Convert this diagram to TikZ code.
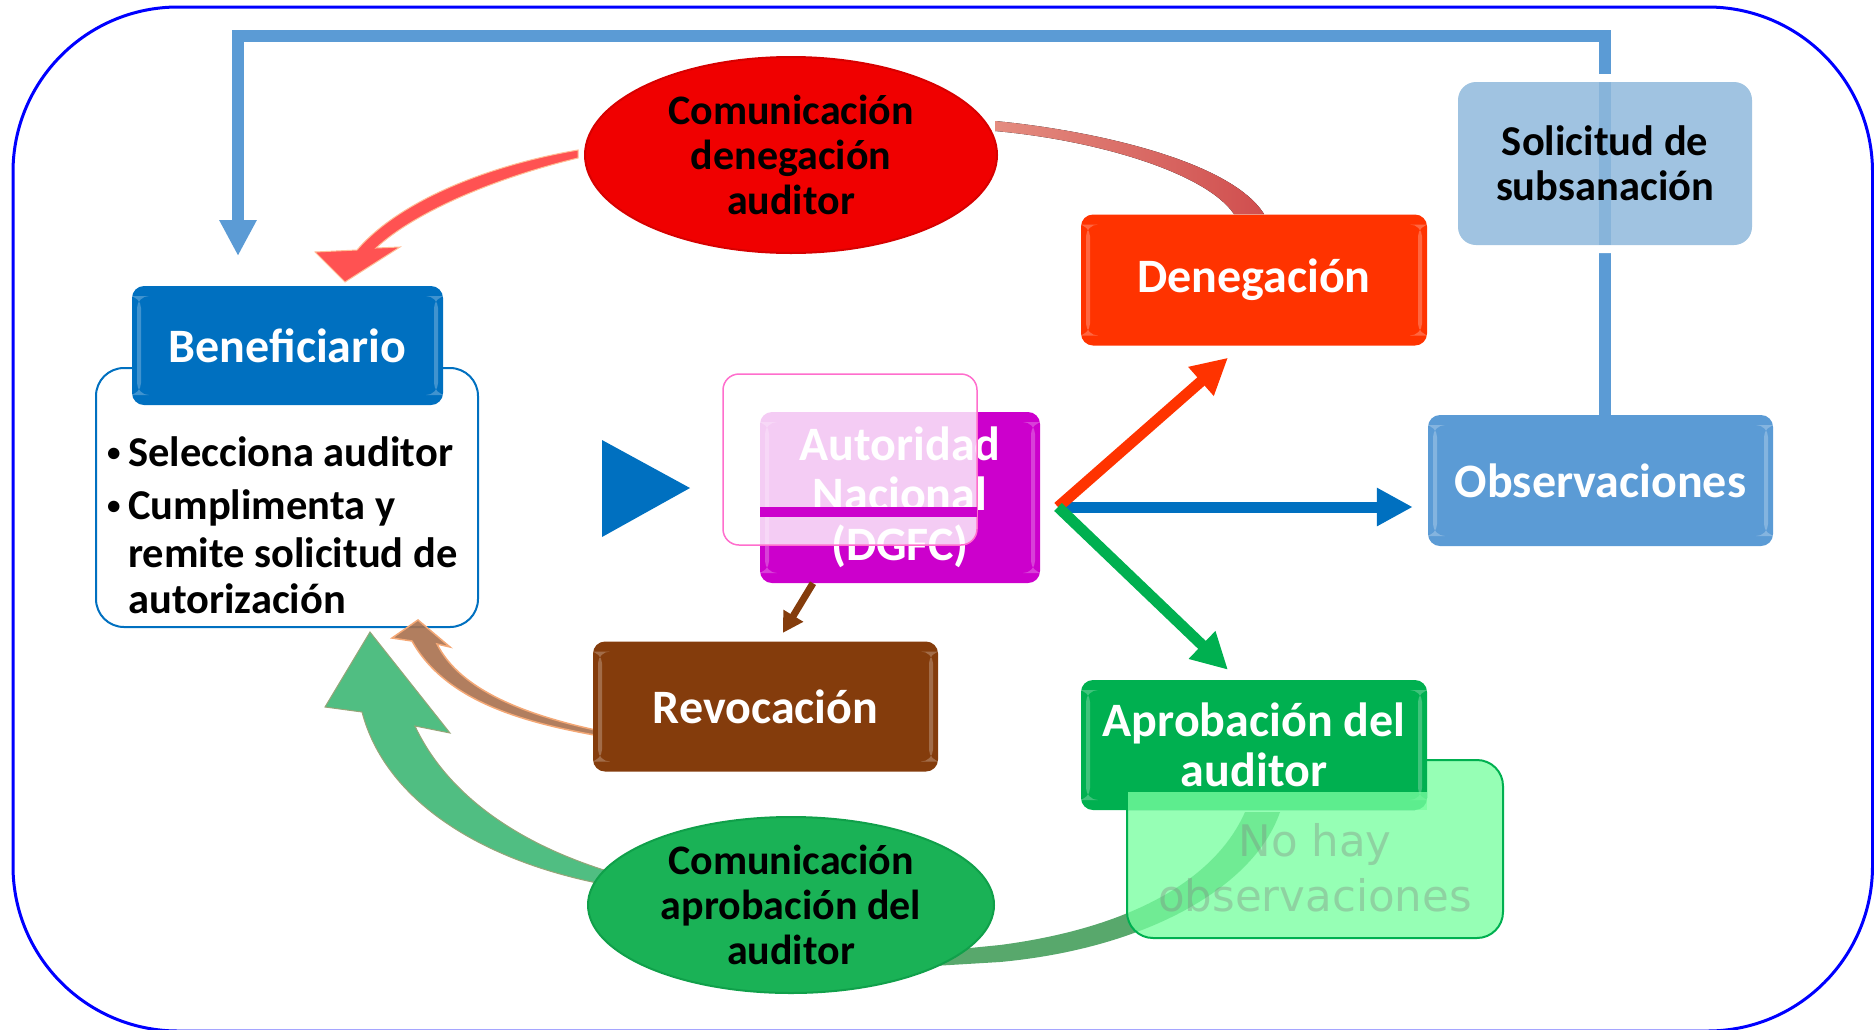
\documentclass[tikz,border=0pt]{standalone}
\usepackage{fontspec}
\setmainfont{Carlito}
\newfontfamily\lightsans{DejaVu Sans}
\usetikzlibrary{arrows.meta,calc,shapes.geometric}

\definecolor{benblue}{HTML}{0070C0}
\definecolor{denred}{HTML}{FF3300}
\definecolor{automag}{HTML}{CC00CC}
\definecolor{obsblue}{HTML}{5B9BD5}
\definecolor{revbrown}{HTML}{843C0C}
\definecolor{aprgreen}{HTML}{00B050}
\definecolor{solblue}{RGB}{143,185,220}
\definecolor{frameblue}{RGB}{0,0,255}
\definecolor{arrowred}{RGB}{255,82,82}
\definecolor{arrowrededge}{RGB}{255,190,150}
\definecolor{bandred}{RGB}{208,78,78}
\definecolor{bandredlight}{RGB}{228,140,128}
\definecolor{brownarrow}{RGB}{168,112,78}
\definecolor{brownedge}{RGB}{244,168,118}
\definecolor{greenarrow}{RGB}{80,190,130}
\definecolor{greenarrowedge}{RGB}{150,165,120}
\definecolor{greenband}{RGB}{88,168,108}
\definecolor{nohayfill}{RGB}{120,255,160}
\definecolor{pinkedge}{RGB}{255,110,205}
\definecolor{ellred}{RGB}{240,0,0}
\definecolor{ellredrim}{RGB}{215,0,0}
\definecolor{ellgreen}{RGB}{26,178,86}
\definecolor{ellgreenrim}{RGB}{16,160,74}

\newcommand{\smallbullet}{\makebox[22pt][l]{\hspace{1pt}\raisebox{5pt}{\fontsize{27}{27}\selectfont\textbullet}}}

\begin{document}
\begin{tikzpicture}[x=1pt,y=-1pt,
  box/.style={rounded corners=12pt, inner sep=0pt, align=center, text=white,
    font=\fontsize{48}{50}\selectfont\bfseries},
  gloss/.style={path picture={
    \fill[white,opacity=0.25] ([xshift=5pt,yshift=-10pt]path picture bounding box.north west) rectangle ([xshift=9pt,yshift=10pt]path picture bounding box.south west);
    \fill[white,opacity=0.25] ([xshift=-9pt,yshift=-10pt]path picture bounding box.north east) rectangle ([xshift=-5pt,yshift=10pt]path picture bounding box.south east);
  }},
  ell/.style={ellipse, inner sep=0pt, align=center, text=black,
    font=\fontsize{42}{45}\selectfont\bfseries},
  bodytext/.style={inner sep=0pt, anchor=base west, text=black,
    font=\fontsize{42.5}{47}\selectfont\bfseries},
  hubarrow/.style={line width=11pt, -{Triangle[width=36pt,length=36pt]}},
]
\useasboundingbox (0,0) rectangle (1874,1029);

% outer frame
\begin{scope}
\clip (0,0) rectangle (1874,1029);
\draw[frameblue,line width=3pt,rounded corners=165pt] (13,7) rectangle (1872.5,1031);
\end{scope}

% Observaciones and Beneficiario
\node[box, fill=obsblue, gloss, minimum width=345pt, minimum height=131pt] (obs) at (1600.5,480.5) {Observaciones};
\node[draw=benblue, line width=2pt, fill=white, rounded corners=28pt, minimum width=382pt, minimum height=259pt, inner sep=0pt] (body) at (287,497.5) {};
\node[box, fill=benblue, gloss, minimum width=311pt, minimum height=119pt] (ben) at (287.5,345.5) {Beneficiario};
\node[bodytext] (l1) at (106,466) {\smallbullet Selecciona auditor};
\node[bodytext] (l2) at (106,519) {\smallbullet Cumplimenta y};
\node[bodytext] (l3) at (128,567) {remite solicitud de};
\node[bodytext] (l4) at (128,613) {autorización};

% elbow connector Observaciones -> Beneficiario
\coordinate (elbowR) at (1605,36);
\coordinate (elbowL) at (238,36);
\coordinate (benin) at (238,256);
\draw[obsblue, line width=12pt, -{Triangle[width=35pt,length=36pt]}] (obs.north -| elbowR) -- (elbowR) -- (elbowL) -- (benin);

% Solicitud de subsanacion
\fill[white, even odd rule, rounded corners=22pt] (1450,74) rectangle (1760,253) (1458,82) rectangle (1752,245);
\node[box, fill=solblue, fill opacity=0.85, text opacity=1, text=black, font=\fontsize{42.5}{45}\selectfont\bfseries, rounded corners=18pt, minimum width=294pt, minimum height=163pt] (sol) at (1605,163.5) {Solicitud de\\subsanación};

% red band Denegacion -> ellipse
\fill[left color=bandredlight, right color=bandred] (995,121) .. controls (1090,130) and (1230,160) .. (1264,214) -- (1234,214) .. controls (1205,172) and (1095,140) .. (995,131) -- cycle;
% red arrow ellipse -> Beneficiario
\filldraw[fill=arrowred, draw=arrowrededge, line width=1pt] (578,150) .. controls (490,165) and (400,200) .. (357,250) -- (315,252) -- (345,282) -- (400,247) -- (376,248) .. controls (415,212) and (495,178) .. (578,158) -- cycle;
\node[ell, fill=ellred, draw=ellredrim, line width=2pt, minimum width=412pt, minimum height=196pt] (cden) at (791,155) {Comunicación\\denegación\\auditor};
\node[box, fill=denred, gloss, minimum width=346pt, minimum height=131pt] (den) at (1254,280) {Denegación};

% green band under No hay observaciones
\fill[greenband] (1245,812) .. controls (1215,880) and (1130,928) .. (1000,945) -- (900,955) -- (900,968) -- (1000,962) .. controls (1150,948) and (1255,885) .. (1280,812) -- cycle;
\node[fill=nohayfill, fill opacity=0.78, draw=aprgreen, line width=2pt, rounded corners=26pt, minimum width=376pt, minimum height=178pt, inner sep=0pt] (nohay) at (1315,849) {};
\node[box, fill=aprgreen, gloss, minimum width=346pt, minimum height=130pt] (apr) at (1254,745) {Aprobación del\\auditor};
\fill[nohayfill, fill opacity=0.78] (1128,792) rectangle (1427,810);
\draw[aprgreen, line width=2pt] (1127,792) -- (1127,811);
\node[font=\lightsans\fontsize{43.5}{55}\selectfont, text=black!50, text opacity=0.35, align=center, inner sep=0pt] (nohaytxt) at (1315,868) {No hay\\observaciones};

% green big arrow ellipse -> Beneficiario
\filldraw[fill=greenarrow, draw=greenarrowedge, line width=1pt] (602,884) .. controls (480,860) and (385,800) .. (362,712) -- (325,707) -- (370,632) -- (450,733) -- (415,726) .. controls (445,790) and (510,840) .. (604,870) -- cycle;
\node[ell, fill=ellgreen, draw=ellgreenrim, line width=2pt, minimum width=406pt, minimum height=176pt] (capr) at (791,905) {Comunicación\\aprobación del\\auditor};

% brown curved arrow Revocacion -> Beneficiario
\filldraw[fill=brownarrow, draw=brownedge, line width=1.5pt, fill opacity=0.9] (600,736) .. controls (520,722) and (445,700) .. (412,641) -- (392,638) -- (418,620) -- (450,647) -- (437,644) .. controls (460,690) and (525,715) .. (600,731) -- cycle;
\node[box, fill=revbrown, gloss, minimum width=345pt, minimum height=130pt] (rev) at (765.5,706.5) {Revocación};

% triangle
\fill[benblue] (602,440) -- (690,488) -- (602,537) -- cycle;

% Autoridad Nacional
\node[box, fill=automag, gloss, minimum width=280pt, minimum height=171pt] (aut) at (900,497.5) {Autoridad\\Nacional\\(DGFC)};
\node[draw=pinkedge, line width=1.5pt, fill=white, fill opacity=0.8, rounded corners=16pt, minimum width=254pt, minimum height=171pt, inner sep=0pt] (autov) at (850,459.5) {};
\fill[automag] (760,507) rectangle (977,517);

% arrows from the hub
\coordinate (hub) at (1058,507);
\draw[hubarrow, benblue] (hub) -- ($(obs.west)+(-15,26.5)$);
\draw[hubarrow, denred] (hub) -- ($(den.south)+(-26,12)$);
\draw[hubarrow, aprgreen] (hub) -- ($(apr.north)+(-26,-10)$);
\draw[revbrown, line width=7pt, -{Triangle[width=22pt,length=20pt]}] ($(aut.south)+(-87,0)$) -- ($(rev.north)+(17.5,-8.5)$);
\end{tikzpicture}
\end{document}
